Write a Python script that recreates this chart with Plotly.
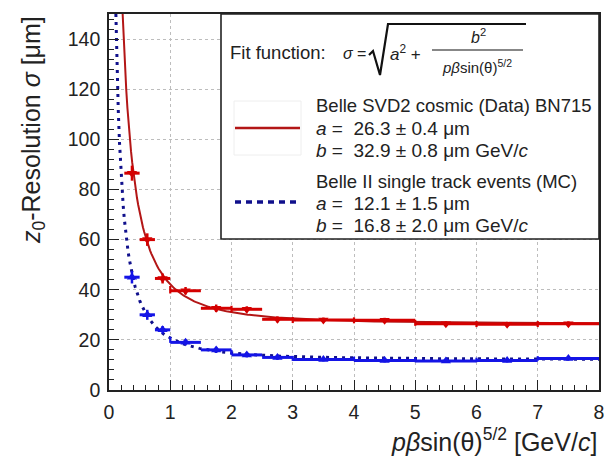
import numpy as np
import plotly.graph_objects as go

# ---------------- data ----------------
red_x = [0.375, 0.625, 0.875, 1.25, 1.75, 2.25, 2.75, 3.5, 4.5, 5.5, 6.5, 7.5]
red_y = [86.5, 60.0, 44.5, 39.6, 32.6, 32.2, 28.2, 27.9, 27.8, 26.4, 26.2, 26.4]
red_xerr = [0.125, 0.125, 0.125, 0.25, 0.25, 0.25, 0.25, 0.5, 0.5, 0.5, 0.5, 0.5]
red_yerr = [3.0, 2.5, 2.0, 1.5, 1.5, 1.2, 1.2, 1.0, 1.0, 1.0, 1.0, 1.0]
red_mid_x = [1, 2, 3, 4, 5, 6, 7]
red_mid_y = [40.0, 32.3, 27.9, 27.8, 26.8, 26.3, 26.3]
red_mid_yerr = [1.5, 1.3, 1.2, 1.2, 1.2, 1.2, 1.2]

blue_x = [0.375, 0.625, 0.875, 1.25, 1.75, 2.25, 2.75, 3.5, 4.5, 5.5, 6.5, 7.5]
blue_y = [45.0, 30.0, 24.0, 19.0, 16.0, 14.0, 13.0, 12.2, 11.8, 11.6, 11.8, 12.6]
blue_xerr = [0.125, 0.125, 0.125, 0.25, 0.25, 0.25, 0.25, 0.5, 0.5, 0.5, 0.5, 0.5]
blue_yerr = [2.5, 2.0, 1.5, 1.2, 1.2, 1.0, 1.0, 0.8, 0.8, 0.8, 0.8, 0.8]
blue_mid_x = [1, 2, 3, 4, 5, 6, 7]
blue_mid_y = [20.0, 15.0, 12.6, 12.4, 12.0, 12.0, 12.6]
blue_mid_yerr = [1.2, 1.0, 1.0, 0.9, 0.9, 0.9, 0.9]

# fit parameters (from legend)
red_a, red_b = 26.3, 32.9
blue_a, blue_b = 12.1, 16.8

x_ticks = [0, 1, 2, 3, 4, 5, 6, 7, 8]
y_ticks = [0, 20, 40, 60, 80, 100, 120, 140]

# ---------------- layout geometry ----------------
W, H = 604, 457
L, R, T, B = 109, 5, 14, 67
X0, X1 = 0, 8
Y0, Y1 = 0, 150
pw = W - L - R
ph = H - T - B


def dx(px):
    return X0 + (px - L) / pw * (X1 - X0)


def dy(py):
    return Y0 + (H - B - py) / ph * (Y1 - Y0)


RED_M = "#d40000"
RED_L = "#b31616"
BLUE_M = "#1414e6"
BLUE_L = "#10108c"
FONT = "Liberation Sans, Arial, Helvetica, sans-serif"

fig = go.Figure()

# fit curves
xr = np.linspace(red_b / np.sqrt(Y1**2 - red_a**2), 8, 400)
fig.add_trace(go.Scatter(x=xr, y=np.sqrt(red_a**2 + red_b**2 / xr**2), mode="lines",
                         line=dict(color=RED_L, width=2), showlegend=False, hoverinfo="skip"))
xb = np.linspace(blue_b / np.sqrt(Y1**2 - blue_a**2), 8, 400)
fig.add_trace(go.Scatter(x=xb, y=np.sqrt(blue_a**2 + blue_b**2 / xb**2), mode="lines",
                         line=dict(color=BLUE_L, width=3, dash="3px,5px"), showlegend=False, hoverinfo="skip"))

# intermediate points (error bars only)
for xs, ys, es, col in [(red_mid_x, red_mid_y, red_mid_yerr, RED_M),
                        (blue_mid_x, blue_mid_y, blue_mid_yerr, BLUE_M)]:
    fig.add_trace(go.Scatter(x=xs, y=ys, mode="markers",
                             marker=dict(size=1, color=col),
                             error_y=dict(type="data", array=es, color=col, thickness=2.2, width=0),
                             showlegend=False))

# binned points
fig.add_trace(go.Scatter(x=red_x, y=red_y, mode="markers",
                         marker=dict(symbol="triangle-down", size=9, color=RED_M),
                         error_x=dict(type="data", array=red_xerr, color=RED_M, thickness=3, width=0),
                         error_y=dict(type="data", array=red_yerr, color=RED_M, thickness=2.5, width=0),
                         showlegend=False))
fig.add_trace(go.Scatter(x=blue_x, y=blue_y, mode="markers",
                         marker=dict(symbol="triangle-up", size=9, color=BLUE_M),
                         error_x=dict(type="data", array=blue_xerr, color=BLUE_M, thickness=3, width=0),
                         error_y=dict(type="data", array=blue_yerr, color=BLUE_M, thickness=2.5, width=0),
                         showlegend=False))

shapes = []
# legend box
shapes.append(dict(type="rect", xref="x", yref="y", x0=dx(221), x1=X1, y0=dy(239), y1=Y1,
                   fillcolor="white", line=dict(color="#222", width=1.6), layer="above"))
# faint sample box
shapes.append(dict(type="rect", xref="x", yref="y", x0=dx(234), x1=dx(301), y0=dy(155), y1=dy(101),
                   fillcolor="white", line=dict(color="#eeeeee", width=1), layer="above"))
# legend samples
shapes.append(dict(type="line", xref="x", yref="y", x0=dx(235), x1=dx(300), y0=dy(128), y1=dy(128),
                   line=dict(color=RED_L, width=2.5), layer="above"))
shapes.append(dict(type="line", xref="x", yref="y", x0=dx(235), x1=dx(300), y0=dy(202), y1=dy(202),
                   line=dict(color=BLUE_L, width=3.5, dash="6px,5px"), layer="above"))
# radical sign
pts = [(369, 55), (373, 51), (380, 75), (388, 24), (526, 24)]
path = "M " + " L ".join(f"{dx(a):.4f},{dy(b):.4f}" for a, b in pts)
shapes.append(dict(type="path", xref="x", yref="y", path=path,
                   line=dict(color="#111", width=2.2), layer="above"))
# fraction bar
shapes.append(dict(type="line", xref="x", yref="y", x0=dx(432), x1=dx(523), y0=dy(50), y1=dy(50),
                   line=dict(color="#111", width=1.2), layer="above"))

ann = []


def txt(px, py, s, size=18, xanchor="left"):
    ann.append(dict(x=dx(px), y=dy(py), xref="x", yref="y", text=s, showarrow=False,
                    xanchor=xanchor, yanchor="middle", font=dict(size=size, color="#222", family=FONT)))


txt(228, 52, "Fit function:", size=18.5)
txt(341, 53, "<i>σ</i> =", size=16)
txt(388, 53, "<i>a</i><sup>2</sup> +", size=17)
txt(478, 36, "<i>b</i><sup>2</sup>", size=16, xanchor="center")
txt(477, 66, "<i>pβ</i>sin(θ)<sup>5/2</sup>", size=15, xanchor="center")
txt(314, 105, "Belle SVD2 cosmic (Data) BN715", size=18.5)
txt(314, 128, "<i>a</i> =  26.3 ± 0.4 μm", size=19)
txt(314, 150, "<i>b</i> =  32.9 ± 0.8 μm GeV/<i>c</i>", size=19)
txt(314, 181, "Belle II single track events (MC)", size=18.5)
txt(314, 203, "<i>a</i> =  12.1 ± 1.5 μm", size=19)
txt(314, 225, "<i>b</i> =  16.8 ± 2.0 μm GeV/<i>c</i>", size=19)

# axis titles
ann.append(dict(x=1.0, y=-(440 - 390) / ph, xref="paper", yref="paper", xanchor="right", yanchor="middle",
                text="<i>pβ</i>sin(θ)<sup>5/2</sup> [GeV/<i>c</i>]", showarrow=False,
                font=dict(size=25, color="#222", family=FONT)))
ann.append(dict(x=(33 - L) / pw, y=1.0, xref="paper", yref="paper", xanchor="center", yanchor="top",
                text="<i>z</i><sub>0</sub>-Resolution <i>σ</i> [μm]", textangle=-90, showarrow=False,
                font=dict(size=25, color="#222", family=FONT)))

axis_common = dict(showline=True, linecolor="#222", linewidth=1.6, mirror=True,
                   ticks="inside", tickcolor="#222", tickwidth=1.3, ticklen=10,
                   showgrid=True, gridcolor="#bdbdbd", griddash="dot", gridwidth=1,
                   zeroline=False, automargin=False, ticklabeloverflow="allow",
                   tickfont=dict(size=19.5, color="#222", family=FONT))

fig.update_layout(
    width=W, height=H, margin=dict(l=L, r=R, t=T, b=B, autoexpand=False),
    paper_bgcolor="white", plot_bgcolor="white",
    showlegend=False, shapes=shapes, annotations=ann,
    xaxis=dict(range=[X0, X1], tickvals=x_ticks, ticktext=[str(v) for v in x_ticks],
               minor=dict(ticks="inside", ticklen=5, dtick=0.2, tickcolor="#222", showgrid=False),
               ticklabelstandoff=4, **axis_common),
    yaxis=dict(range=[Y0, Y1], tickvals=y_ticks, ticktext=[str(v) for v in y_ticks],
               minor=dict(ticks="inside", ticklen=5, dtick=4, tickcolor="#222", showgrid=False),
               ticklabelstandoff=3, **axis_common),
)

fig.write_html("out.html", config={"displayModeBar": False},
               post_script="document.body.style.margin='0';document.body.style.overflow='hidden';")
